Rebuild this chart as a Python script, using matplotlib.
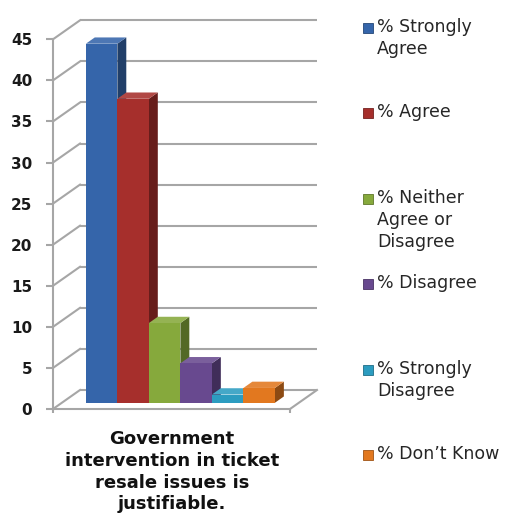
import numpy as np
import matplotlib
matplotlib.use("Agg")
import matplotlib.pyplot as plt
from matplotlib.patches import Polygon, Rectangle
from matplotlib.colors import to_rgb

series = ["% Strongly\nAgree", "% Agree", "% Neither\nAgree or\nDisagree",
          "% Disagree", "% Strongly\nDisagree", "% Don\u2019t Know"]
values = [43.7, 37.0, 9.7, 4.8, 1.0, 1.8]
colors = ["#3565AA", "#A62F2C", "#86A93C", "#68498F", "#2C9CC0", "#E2781F"]
category = "Government\nintervention in ticket\nresale issues is\njustifiable."
yticks = [0, 5, 10, 15, 20, 25, 30, 35, 40, 45]

W, H = 521, 518
fig = plt.figure(figsize=(W / 100, H / 100), dpi=100)
fig.patch.set_facecolor("white")

# front plane of the 3-D box, in pixels
fx0, fx1, fy0, fy1 = 53, 290, 409, 39.3
ax = fig.add_axes([fx0 / W, (H - fy0) / H, (fx1 - fx0) / W, (fy0 - fy1) / H])
xmin, xmax = -1.26, 6.26
ymax = 45
ax.set_xlim(xmin, xmax)
ax.set_ylim(0, ymax)
ax.set_facecolor("none")

# depth offset in data units (27 px right, 19 px up)
pxx = (xmax - xmin) / (fx1 - fx0)
pxy = ymax / (fy0 - fy1)
DX, DY = 27 * pxx, 19 * pxy

grid_c = "#A6A6A6"
glw = 1.5
# back wall gridlines + diagonals
for t in yticks:
    ax.plot([xmin + DX, xmax + DX], [t + DY, t + DY], color=grid_c, lw=glw,
            clip_on=False, zorder=1, solid_capstyle="butt")
    ax.plot([xmin, xmin + DX], [t, t + DY], color=grid_c, lw=glw,
            clip_on=False, zorder=1)
# floor right edge
ax.plot([xmax, xmax + DX], [0, DY], color=grid_c, lw=glw, clip_on=False, zorder=1)

# bars
f0, f1 = 0.33, 0.66
for i, (v, c) in enumerate(zip(values, colors)):
    base = f0 * DY
    x0 = i - 0.5 + f0 * DX
    x1 = x0 + 1
    ddx, ddy = (f1 - f0) * DX, (f1 - f0) * DY
    rgb = np.array(to_rgb(c))
    side = rgb * 0.62
    top = rgb + (1 - rgb) * 0.12
    ax.add_patch(Polygon([(x1, base), (x1 + ddx, base + ddy), (x1 + ddx, base + v + ddy),
                          (x1, base + v)], closed=True, facecolor=side, edgecolor="none",
                         zorder=3 + i * 3, clip_on=False))
    ax.add_patch(Polygon([(x0, base + v), (x1, base + v), (x1 + ddx, base + v + ddy),
                          (x0 + ddx, base + v + ddy)], closed=True, facecolor=top,
                         edgecolor="none", zorder=4 + i * 3, clip_on=False))
    ax.bar(i + f0 * DX, v, width=1, bottom=base, color=c, edgecolor="none",
           zorder=5 + i * 3, clip_on=False)

# axes styling
for s in ["top", "right"]:
    ax.spines[s].set_visible(False)
ax.spines["left"].set_color(grid_c)
ax.spines["left"].set_linewidth(glw)
ax.spines["bottom"].set_color(grid_c)
ax.spines["bottom"].set_linewidth(glw)
ax.set_yticks(yticks)
ax.set_yticklabels([str(t) for t in yticks], fontsize=11, fontweight="bold",
                   color="#1a1a1a", family="DejaVu Sans")
ax.tick_params(axis="y", length=5, width=glw, color=grid_c, pad=10)
ax.set_xticks([xmin, xmax])
ax.set_xticklabels(["", ""])
ax.tick_params(axis="x", length=3, width=glw, color=grid_c)

# category label
fig.text(172 / W, 1 - 430 / H, category, ha="center", va="top", fontsize=13,
         fontweight="bold", family="DejaVu Sans", color="#111111", linespacing=1.27)

# legend
step = 85.4
for i, (name, c) in enumerate(zip(series, colors)):
    yc = 28 + i * step
    fig.patches.append(Rectangle((363 / W, 1 - (yc + 5) / H), 10 / W, 10 / H,
                                 transform=fig.transFigure, facecolor=c,
                                 edgecolor=np.array(to_rgb(c)) * 0.7, lw=0.6))
    fig.text(377 / W, 1 - (yc - 10) / H, name, ha="left", va="top", fontsize=12.5,
             family="DejaVu Sans", color="#262626", linespacing=1.3)

fig.savefig("out.png", dpi=100, facecolor="white")
